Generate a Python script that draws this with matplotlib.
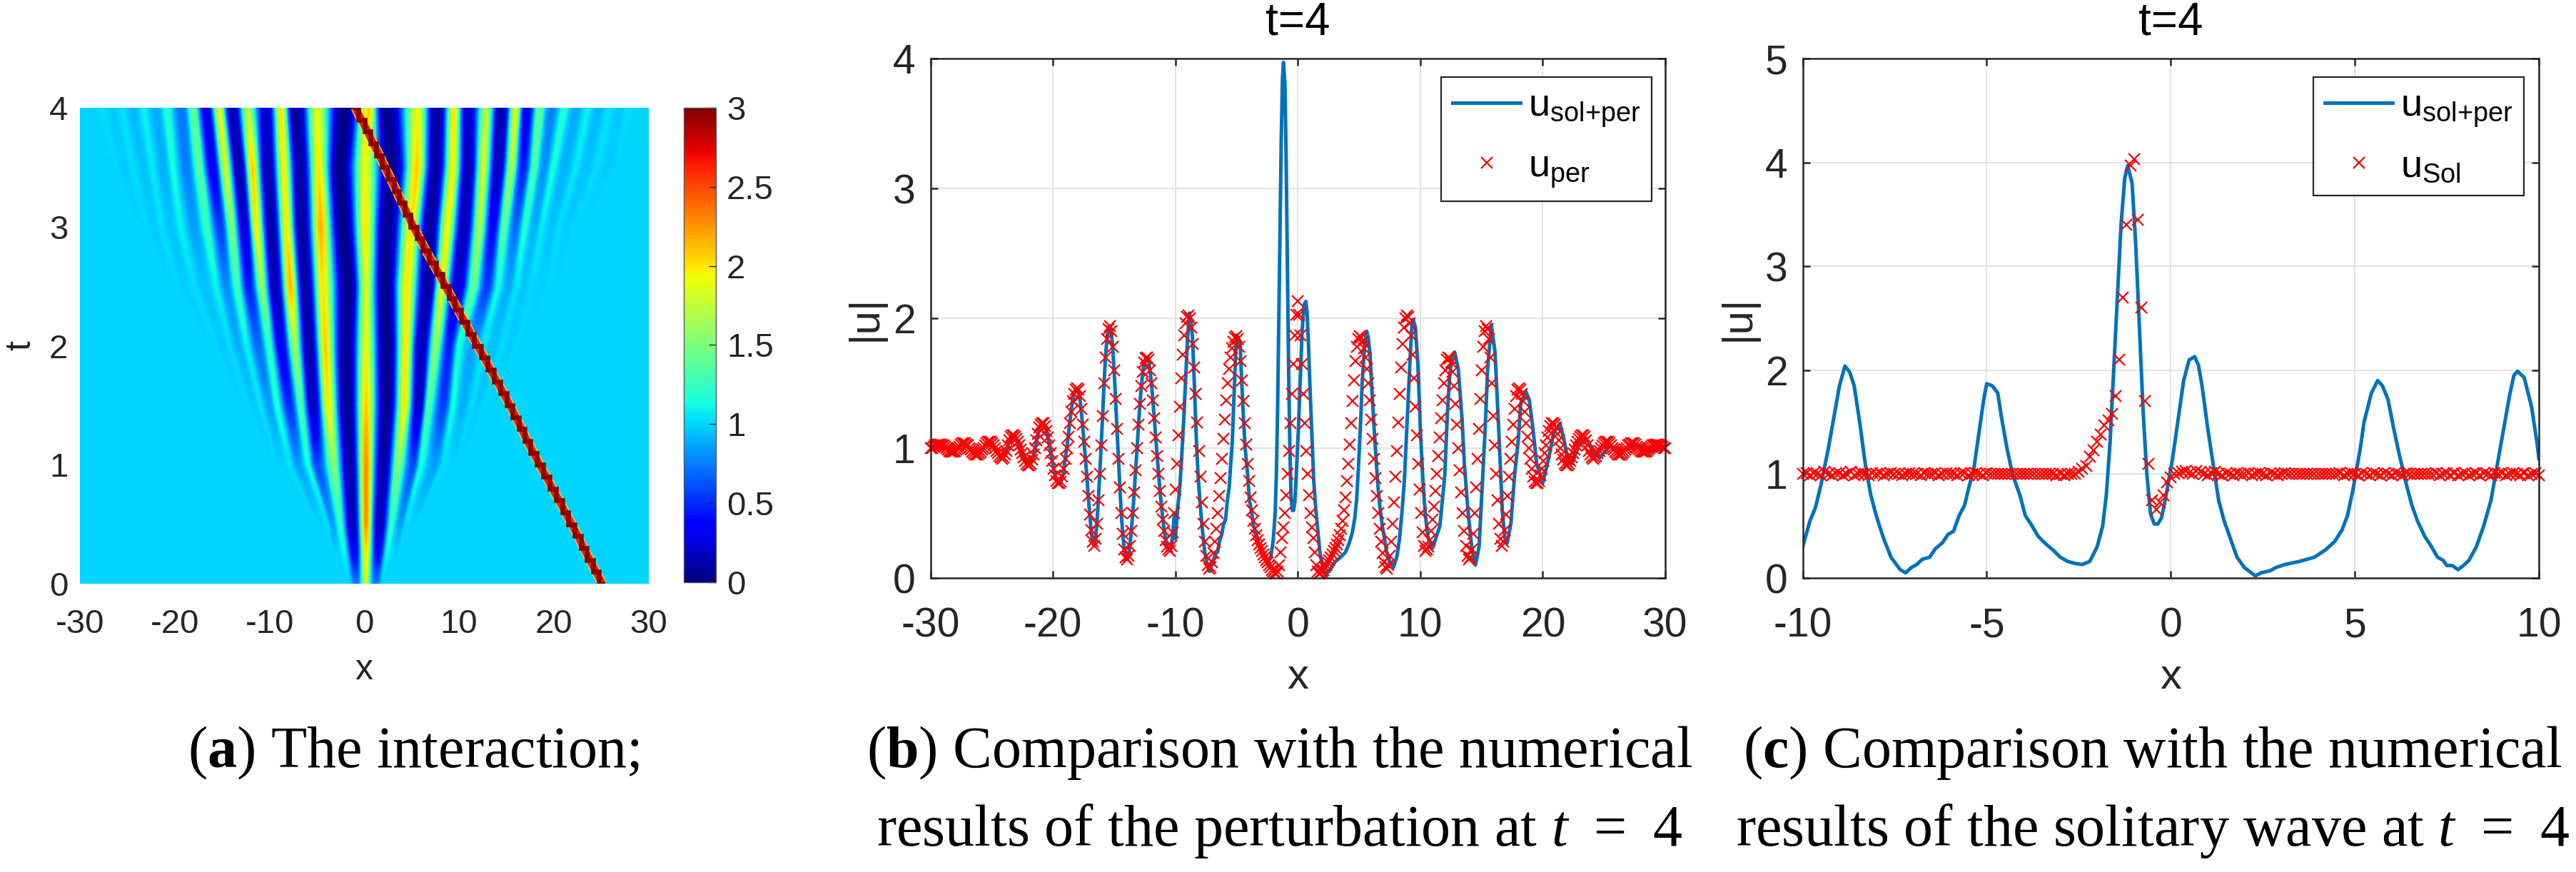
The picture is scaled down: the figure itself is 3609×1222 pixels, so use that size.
import numpy as np
import matplotlib
matplotlib.use("Agg")
import matplotlib.pyplot as plt

plt.rcParams.update({
    "font.family": ["Liberation Sans", "DejaVu Sans"],
    "axes.unicode_minus": False,
    "mathtext.fontset": "custom",
    "mathtext.rm": "Liberation Sans",
    "mathtext.it": "Liberation Serif:italic",
    "mathtext.bf": "Liberation Serif:bold",
    "mathtext.default": "rm",
})

# ---------- panel (a): field read as tracks of crests and troughs, per time row ----------
heat_t = [0, 0.25, 0.5, 1, 1.5, 2, 2.5, 3, 3.5, 4]
centre_x = [0.15, 0.18, 0.18, 0.18, 0.18, 0.18, 0.18, 0.15, 0.1, 0.5]
centre_v = [1.8, 2.0, 2.3, 2.3, 2.1, 1.9, 1.85, 2.0, 1.9, 2.1]
left_x = [
    [-0.82, -1.6],
    [-1.02, -2.02, -3.0],
    [-1.22, -2.53, -3.41, -3.81, -4.61],
    [-1.5, -3.21, -5.01, -5.89, -7.0, -7.8, -8.8],
    [-1.82, -3.81, -5.41, -6.69, -7.88, -9.2, -10.0, -11.0, -11.6, -12.2, -13.0],
    [-1.9, -4.13, -5.81, -7.33, -8.8, -10.0, -11.2, -12.4, -13.31, -14.19, -14.99, -15.59, -16.39],
    [-1.62, -4.41, -6.21, -7.8, -9.4, -10.8, -12.2, -13.39, -14.59, -15.59, -16.79, -17.98, -18.98, -19.78, -20.58],
    [-2.22, -4.61, -6.61, -8.2, -9.8, -11.4, -12.6, -14.0, -15.19, -16.59, -17.98, -19.38, -20.38, -21.38, -22.18, -22.97, -23.97],
    [-2.61, -4.81, -6.81, -8.48, -10.2, -11.8, -13.19, -14.67, -15.99, -17.39, -18.78, -20.18, -21.18, -22.38, -23.37, -24.37, -25.37, -26.17, -27.17],
    [-2.0, -5.0, -7.3, -8.8, -10.3, -12.3, -14.0, -15.3, -16.7, -18.0, -19.3, -20.8, -22.0, -23.3, -24.4, -25.6, -26.6, -27.7, -28.7],
]
left_v = [
    [0.75, 1.0],
    [0.35, 1.1, 1.0],
    [0.15, 1.25, 0.85, 1.03, 1.0],
    [0.1, 1.55, 0.6, 1.15, 0.85, 1.03, 1.0],
    [0.05, 2.0, 0.15, 1.35, 0.5, 1.2, 0.85, 1.05, 0.97, 1.01, 1.0],
    [0.05, 2.1, 0.1, 1.65, 0.3, 1.25, 0.7, 1.1, 0.9, 1.03, 0.97, 1.01, 1.0],
    [0.03, 2.0, 0.1, 2.2, 0.12, 1.6, 0.45, 1.3, 0.8, 1.1, 0.95, 1.03, 0.98, 1.01, 1.0],
    [0.02, 2.2, 0.08, 2.0, 0.1, 2.0, 0.2, 1.55, 0.55, 1.25, 0.85, 1.1, 0.95, 1.04, 0.98, 1.01, 1.0],
    [0.02, 2.0, 0.1, 1.95, 0.12, 2.1, 0.1, 1.85, 0.3, 1.4, 0.75, 1.15, 0.9, 1.07, 0.95, 1.03, 0.98, 1.01, 1.0],
    [0.02, 1.87, 0.07, 2.03, 0.22, 1.72, 0.14, 1.93, 0.25, 1.47, 0.72, 1.2, 0.88, 1.1, 0.92, 1.05, 0.97, 1.03, 1.0],
]
right_x = [
    [1.18, 1.9],
    [1.46, 2.38, 3.37],
    [1.58, 2.89, 3.77, 4.37, 5.17],
    [1.98, 3.57, 5.17, 5.97, 7.37, 8.36, 9.36],
    [2.38, 4.25, 5.77, 6.77, 8.36, 9.36, 10.36, 11.36, 11.96, 12.56, 13.35],
    [2.38, 4.41, 5.97, 7.56, 8.96, 9.96, 11.36, 12.56, 13.55, 14.55, 15.35, 16.15, 16.95],
    [2.18, 4.49, 6.77, 8.16, 9.84, 11.56, 12.95, 14.15, 15.15, 16.07, 16.87, 17.66, 18.74, 19.54, 20.34],
    [2.38, 4.97, 6.97, 8.76, 10.56, 12.16, 13.55, 14.75, 15.95, 16.95, 17.94, 18.74, 19.74, 20.54, 21.34, 22.14, 23.14],
    [2.97, 5.57, 7.56, 9.36, 10.96, 12.56, 14.15, 15.55, 16.75, 17.94, 18.94, 19.94, 21.14, 22.34, 23.41, 24.52, 25.73, 26.72, 27.72],
    [2.2, 5.7, 7.7, 9.5, 10.9, 12.9, 14.5, 16.0, 17.1, 18.5, 19.7, 21.1, 22.3, 23.6, 24.7, 25.8, 26.9, 27.9, 28.8],
]
right_v = [
    [0.75, 1.0],
    [0.35, 1.1, 1.0],
    [0.15, 1.25, 0.85, 1.03, 1.0],
    [0.1, 1.55, 0.6, 1.15, 0.85, 1.03, 1.0],
    [0.05, 2.0, 0.15, 1.35, 0.55, 1.15, 0.9, 1.03, 0.97, 1.01, 1.0],
    [0.02, 2.0, 0.15, 1.6, 0.45, 1.15, 0.85, 1.05, 0.95, 1.02, 0.98, 1.01, 1.0],
    [0.03, 2.0, 0.08, 1.9, 0.2, 1.45, 0.55, 1.15, 0.88, 1.05, 0.97, 1.02, 0.99, 1.01, 1.0],
    [0.05, 2.0, 0.08, 1.95, 0.15, 1.7, 0.35, 1.4, 0.7, 1.2, 0.9, 1.08, 0.95, 1.03, 0.98, 1.01, 1.0],
    [0.05, 2.1, 0.1, 1.95, 0.12, 1.85, 0.15, 1.7, 0.45, 1.35, 0.8, 1.15, 0.9, 1.07, 0.95, 1.03, 0.98, 1.01, 1.0],
    [0.04, 1.9, 0.08, 2.0, 0.22, 1.73, 0.1, 1.95, 0.27, 1.45, 0.75, 1.2, 0.88, 1.1, 0.92, 1.05, 0.97, 1.03, 1.0],
]
soliton_t = [0, .1, .2, .3, .4, .5, .6, .7, .8, .9, 1, 1.1, 1.2, 1.3, 1.4, 1.5, 1.6, 1.7, 1.8, 1.9, 2,
             2.1, 2.2, 2.3, 2.4, 2.5, 2.6, 2.7, 2.8, 2.9, 3, 3.1, 3.2, 3.3, 3.4, 3.5, 3.6, 3.7, 3.8, 3.9, 4]
soliton_x = [25.1, 24.45, 23.8, 23.15, 22.55, 21.9, 21.2, 20.55, 19.85, 19.2, 18.5, 17.85, 17.2, 16.6, 16.0, 15.35, 14.7, 14.0, 13.3, 12.65, 11.95,
             11.25, 10.6, 9.9, 9.25, 8.56, 7.9, 7.2, 6.5, 5.85, 5.17, 4.6, 4.0, 3.4, 2.8, 2.18, 1.6, 0.95, 0.35, -0.3, -0.94]

# ---------- panel (b): perturbation markers (x<=0 read; the curve is mirror-symmetric) ----------
per_left = [
    1.00, 1.00, 1.01, 1.02, 1.02, 1.03, 1.03,
    1.03, 1.02, 1.02, 1.01, 1.00, .99, .98, .97, .97,
    .97, .98, .99, 1.00, 1.01, 1.03, 1.04, 1.04,
    1.04, 1.03, 1.02, 1.00, .99, .97, .96, .95, .95,
    .95, .96, .97, .99, 1.00, 1.02, 1.04, 1.05, 1.05,
    1.05, 1.04, 1.02, 1.00, .98, .96, .94, .93, .92,
    .93, .95, .98, 1.02, 1.06, 1.09, 1.10,
    1.10, 1.09, 1.07, 1.05, 1.02, .99, .96, .93, .90, .88, .87, .87,
    .88, .91, .95, 1.00, 1.06, 1.11, 1.16, 1.18, 1.19,
    1.19, 1.17, 1.13, 1.08, 1.02, .96, .90, .84, .79, .75, .73, .73,
    .74, .78, .84, .92, 1.00, 1.09, 1.19, 1.28, 1.36, 1.42, 1.45, 1.46,
    1.45, 1.40, 1.30, 1.18, 1.05, .92, .78, .63, .49, .37, .28, .25,
    .30, .42, .60, .80, 1.02, 1.25, 1.50, 1.70, 1.84, 1.92, 1.94,
    1.90, 1.78, 1.60, 1.38, 1.15, .92, .70, .50, .34, .22, .16, .145,
    .17, .25, .36, .50, .66, .83, 1.00, 1.18, 1.34, 1.48, 1.59, 1.66, 1.69, 1.70,
    1.68, 1.60, 1.50, 1.37, 1.23, 1.08, .94, .80, .67, .55, .45, .36, .29, .24, .22, .21,
    .25, .35, .50, .68, .88, 1.10, 1.32, 1.54, 1.72, 1.87, 1.96, 2.01, 2.02,
    2.00, 1.93, 1.80, 1.62, 1.42, 1.20, .98, .78, .58, .42, .28, .17, .10, .07,
    .08, .12, .19, .28, .38, .50, .63, .77, .92, 1.07, 1.22, 1.37, 1.50, 1.61, 1.70, 1.77, 1.82, 1.85, 1.86,
    1.84, 1.78, 1.67, 1.52, 1.36, 1.19, 1.03, .88, .75, .62, .52, .44, .38, .33, .29, .26, .23, .21, .18, .16, .14, .12, .10, .08, .06, .05, .04, .035,
    .05, .10, .20, .31, .39, .50, .64, .80, .98, 1.19, 1.42, 1.65, 1.87, 2.03, 2.13,
]

# full wave u_sol+per over -10..10 (panel c) and its right continuation (panel b)
wave_x = [-10, -9.8, -9.65, -9.5, -9.3, -9.15, -9.0, -8.92, -8.85, -8.72, -8.6, -8.45, -8.3, -8.15, -8.0, -7.8, -7.6, -7.35, -7.2,
          -7.05, -6.9, -6.75, -6.55, -6.4, -6.2, -6.05, -5.9, -5.75, -5.6, -5.5, -5.35, -5.25, -5.15, -5.08, -5.0, -4.85, -4.7, -4.6, -4.45, -4.3,
          -4.1, -3.95, -3.8, -3.6, -3.4, -3.2, -3.0, -2.8, -2.6, -2.4, -2.2, -2.0, -1.85, -1.75, -1.65, -1.55, -1.45, -1.35, -1.25, -1.17, -1.05,
          -0.95, -0.85, -0.75, -0.65, -0.55, -0.45, -0.35, -0.25, -0.15, -0.05, 0.05, 0.15, 0.25, 0.35, 0.5, 0.65, 0.75, 0.85, 1.0, 1.15, 1.3,
          1.45, 1.6, 1.8, 2.0, 2.3, 2.45, 2.7, 2.85, 3.1, 3.5, 3.9, 4.2, 4.45, 4.65, 4.8, 4.95, 5.05, 5.15, 5.25, 5.45, 5.62, 5.75, 5.9, 6.05,
          6.2, 6.4, 6.55, 6.7, 6.9, 7.05, 7.25, 7.4, 7.5, 7.65, 7.8, 7.95, 8.1, 8.3, 8.5, 8.7, 8.9, 9.05, 9.2, 9.32, 9.42, 9.6, 9.8, 9.95, 10]
wave_y = [.30, .55, .68, .90, 1.25, 1.55, 1.85, 1.95, 2.04, 1.98, 1.85, 1.50, 1.10, .80, .60, .38, .20, .08, .05,
          .10, .13, .18, .20, .28, .34, .42, .45, .60, .70, .85, 1.05, 1.30, 1.55, 1.72, 1.87, 1.85, 1.78, 1.55, 1.25, 1.00,
          .80, .60, .52, .40, .33, .27, .20, .16, .14, .13, .16, .30, .50, .80, 1.30, 2.00, 2.70, 3.40, 3.85, 3.97, 3.80,
          3.20, 2.40, 1.60, 1.00, .62, .52, .52, .58, .75, .95, 1.15, 1.40, 1.65, 1.90, 2.10, 2.13, 2.05, 1.85, 1.45, 1.10, .75,
          .55, .40, .20, .10, .02, .05, .07, .10, .13, .16, .20, .27, .35, .46, .60, .85, 1.05, 1.25, 1.50, 1.78, 1.90, 1.85, 1.72, 1.45,
          1.20, .90, .70, .55, .40, .32, .20, .17, .12, .12, .08, .12, .17, .30, .50, .75, 1.15, 1.45, 1.75, 1.95, 1.99, 1.93, 1.65, 1.30, 1.15]
right_wave_x = [10.2, 10.4, 10.6, 10.8, 11.0, 11.6, 12.0, 12.2, 12.4, 12.6, 12.8, 13.1, 13.4, 13.6, 13.9, 14.2, 14.5, 14.8, 15.0, 15.3, 15.5, 15.8,
                16.1, 16.4, 16.7, 16.9, 17.1, 17.4, 17.7, 18.0, 18.2, 18.6, 18.9, 19.2, 19.5, 20.0, 20.5, 20.9, 21.4, 21.7, 22.0, 22.4, 22.9, 23.5,
                24.1, 24.7, 25.5, 26.5, 27.7, 28.7, 30.0]
right_wave_y = [.78, .50, .33, .25, .23, .40, .79, 1.24, 1.56, 1.70, 1.74, 1.61, 1.24, .88, .51, .24, .10, .24, .60, 1.15, 1.61, 1.95,
                1.74, 1.15, .51, .31, .27, .42, .79, 1.06, 1.34, 1.44, 1.37, 1.15, .88, .73, .93, 1.12, 1.19, 1.08, .93, .88, 1.01, 1.08,
                .99, .93, 1.02, .98, 1.03, .97, 1.00]

# ---------- panel (c): solitary wave markers, -10..10 ----------
sol_values = [
    1.00, 1.01, .99, 1.01, 1.00, .99, 1.02, 1.00, .99, 1.01, 1.01, .99, 1.00, 1.02, .99, 1.00, 1.01, 1.00, .99, 1.01,
    1.00, 1.01, .99, 1.00, 1.01, 1.00, 1.00, .99, 1.00, 1.01, 1.00, 1.00, .99, 1.01, 1.00, 1.00, 1.01, .99, 1.00, 1.01,
    1.00, 1.00, .99, 1.01, 1.01, .99, 1.00, 1.01, 1.00, .99, 1.01, 1.00, 1.00, 1.00, 1.00, 1.00, 1.00, 1.00, 1.00, 1.00,
    1.00, 1.00, 1.00, 1.00, 1.00, 1.00, 1.00, 1.00, 1.00, .99, 1.00, .99, 1.00, 1.00, 1.00,
    1.02, 1.05, 1.08, 1.17, 1.23, 1.31, 1.38, 1.47, 1.52, 1.58, 1.75, 2.10, 2.70, 3.40, 3.97, 4.03, 3.45, 2.60, 1.70, 1.10, .75, .66, .73, .80, .92, .97,
    1.00, 1.01, 1.02, 1.03, 1.01, 1.00, 1.03, 1.02, 1.00, .99, 1.01, 1.02, 1.00, .99, 1.01, 1.00, .99, 1.01, 1.00, 1.00,
    1.01, .99, 1.00, 1.01, 1.00, .99, 1.01, 1.00, .99, 1.00, 1.01, 1.00, 1.00, 1.00, 1.00, 1.00, 1.00, 1.00, 1.00, 1.00,
    1.00, 1.00, 1.00, 1.00, 1.00, 1.01, .99, 1.00, 1.01, 1.00, .99, 1.01, 1.00, .99, 1.01, 1.00, .99, 1.01, 1.00, .99,
    1.01, 1.00, .99, 1.01, 1.00, 1.00, 1.00, 1.00, 1.00, 1.00, 1.00, 1.01, .99, 1.00, 1.01, .99, 1.01, .99, 1.00, 1.01, .99,
    1.00, 1.01, .99, 1.01, 1.00, .99, 1.01, 1.00, 1.01, .99, 1.00, 1.01, 1.00, .99, 1.01, .99, 1.00, 1.01, .99,
]

a_xticks = [-30, -20, -10, 0, 10, 20, 30]
a_yticks = [0, 1, 2, 3, 4]
cb_ticks = [0, 0.5, 1, 1.5, 2, 2.5, 3]
b_yticks = [0, 1, 2, 3, 4]
c_xticks = [-10, -5, 0, 5, 10]
c_yticks = [0, 1, 2, 3, 4, 5]

# ---------- layout ----------
W, H = 3609, 1222
DARK = (0.15, 0.15, 0.15)
BLUE = "#0072BD"


def box(l, t, r, b):
    return [l / W, 1 - b / H, (r - l) / W, (b - t) / H]


fig = plt.figure(figsize=(W / 100, H / 100), dpi=100, facecolor="white")

# ---------- (a) ----------
ax_a = fig.add_axes(box(112, 151, 908.7, 818))
N_TRACK = 19


def side(xs, vs, sign):
    xs, vs = list(xs), list(vs)
    while len(xs) < N_TRACK:
        xs.append(xs[-1] + sign * 0.4)
        vs.append(1.0)
    return xs + [sign * 30], vs + [1.0]


X_rows, C_rows = [], []
for i in range(len(heat_t)):
    lx, lv = side(left_x[i], left_v[i], -1)
    rx, rv = side(right_x[i], right_v[i], 1)
    X_rows.append(lx[::-1] + [centre_x[i]] + rx)
    C_rows.append(lv[::-1] + [centre_v[i]] + rv)
X_tracks = np.array(X_rows)
C_tracks = np.array(C_rows)

# Gouraud shading blends RGB, so the quads are subdivided to keep the colour map true;
# crests are kept narrow and troughs broad, as in the picture
SUB_COL, SUB_ROW = 8, 8
n_row, n_col = X_tracks.shape
frac = np.arange(SUB_COL) / SUB_COL
ease = frac * frac * (3 - 2 * frac)
PROFILE = 1.5


def shaped(a, b):
    e = ease ** PROFILE if b > a else 1 - (1 - ease) ** PROFILE
    return a + (b - a) * e


X_c = np.vstack([np.concatenate([X_tracks[r, k] + (X_tracks[r, k + 1] - X_tracks[r, k]) * frac for k in range(n_col - 1)] + [X_tracks[r, -1:]]) for r in range(n_row)])
C_c = np.vstack([np.concatenate([shaped(C_tracks[r, k], C_tracks[r, k + 1]) for k in range(n_col - 1)] + [C_tracks[r, -1:]]) for r in range(n_row)])
row_idx = np.linspace(0, n_row - 1, (n_row - 1) * SUB_ROW + 1)
X_mesh = np.column_stack([np.interp(row_idx, np.arange(n_row), X_c[:, j]) for j in range(X_c.shape[1])])
C_mesh = np.column_stack([np.interp(row_idx, np.arange(n_row), C_c[:, j]) for j in range(C_c.shape[1])])
T_mesh = np.repeat(np.interp(row_idx, np.arange(n_row), heat_t)[:, None], X_mesh.shape[1], axis=1)
mesh = ax_a.pcolormesh(X_mesh, T_mesh, C_mesh, shading="gouraud", cmap="jet", vmin=0, vmax=3)
ax_a.plot(soliton_x, soliton_t, color="#d8f040", lw=13 * 0.72, solid_capstyle="butt")
ax_a.plot(soliton_x, soliton_t, color="#f02000", lw=10.5 * 0.72, solid_capstyle="butt")
ax_a.plot(soliton_x, soliton_t, color="#8a0000", lw=6.5 * 0.72, drawstyle="steps-mid", solid_joinstyle="miter")
ax_a.set_xlim(-30, 30)
ax_a.set_ylim(0, 4)
ax_a.set_xticks(a_xticks)
ax_a.set_xticklabels([str(v) for v in a_xticks])
ax_a.set_yticks(a_yticks)
for s in ax_a.spines.values():
    s.set_visible(False)
ax_a.tick_params(length=0, labelsize=34, labelcolor=DARK)
ax_a.tick_params(axis="x", pad=25)
ax_a.tick_params(axis="y", pad=12)
ax_a.set_xlabel("x", fontsize=36, color=DARK)
ax_a.xaxis.set_label_coords(0.5, -0.181)
ax_a.xaxis.label.set_verticalalignment("center")
ax_a.set_ylabel("t", fontsize=36, color=DARK)
ax_a.yaxis.set_label_coords(-0.104, 0.5)
ax_a.yaxis.label.set_verticalalignment("center")

cax = fig.add_axes(box(958, 151, 1002.7, 815.7))
cb = fig.colorbar(mesh, cax=cax)
cb.set_ticks(cb_ticks)
cb.set_ticklabels([f"{v:g}" for v in cb_ticks])
cb.ax.tick_params(direction="in", length=7, width=1.0, color=DARK, labelsize=34, labelcolor=DARK, pad=11)
cb.outline.set_edgecolor("0.35")
cb.outline.set_linewidth(1.0)


def style(ax, xticks, yticks, ylim, xlim):
    ax.set_xlim(*xlim)
    ax.set_ylim(*ylim)
    ax.set_xticks(xticks)
    ax.set_xticklabels([str(v) for v in xticks])
    ax.set_yticks(yticks)
    ax.grid(True, color="#dedede", lw=1.2)
    ax.set_axisbelow(True)
    ax.tick_params(direction="in", top=True, right=True, length=7.5, width=1.8, color=DARK,
                   labelsize=41, labelcolor=DARK)
    ax.tick_params(axis="x", pad=29)
    ax.tick_params(axis="y", pad=15)
    for s in ax.spines.values():
        s.set_linewidth(1.8)
        s.set_edgecolor(DARK)
    ax.set_title("t=4", fontsize=46, color="black", y=1.0, pad=24)
    ax.set_xlabel("x", fontsize=43, color=DARK)
    ax.xaxis.set_label_coords(0.5, -0.191)
    ax.xaxis.label.set_verticalalignment("center")
    ax.set_ylabel("|u|", fontsize=43, color=DARK)
    ax.yaxis.label.set_verticalalignment("center")


MS = 12
MEW = 1.6


def add_legend(ax, anchor):
    leg = ax.legend(loc="upper left", bbox_to_anchor=anchor, borderaxespad=0, fancybox=False,
                    edgecolor=DARK, framealpha=1, fontsize=39, handlelength=1.75, handletextpad=0.2,
                    labelspacing=0.5, borderpad=0.3)
    leg.get_frame().set_linewidth(1.6)


# ---------- (b) ----------
ax_b = fig.add_axes(box(1303.5, 82, 2333, 810))
per_x_left = np.linspace(-30, 0, len(per_left))
per_x = np.concatenate([per_x_left, -per_x_left[-2::-1]])
per_y = np.concatenate([per_left, per_left[-2::-1]])
mask = per_x_left < -10
line_x = np.concatenate([per_x_left[mask], wave_x, right_wave_x])
line_y = np.concatenate([np.array(per_left)[mask], wave_y, right_wave_y])
ax_b.plot(line_x, line_y, color=BLUE, lw=3.6, label=r"u$_{\mathrm{sol}{+}\mathrm{per}}$")
ax_b.plot(per_x, per_y, ls="none", marker="x", ms=MS, mew=MEW, color="red", label=r"u$_{\mathrm{per}}$", clip_on=False)
style(ax_b, a_xticks, b_yticks, (0, 4), (-30, 30))
ax_b.yaxis.set_label_coords((1212 - 1303.5) / 1029.5, 0.5)
add_legend(ax_b, ((2019 - 1303.5) / 1029.5, 1 - (107.5 - 82) / 728))

# ---------- (c) ----------
ax_c = fig.add_axes(box(2525.5, 82, 3557, 810))
sol_x = np.linspace(-10, 10, len(sol_values))
ax_c.plot(wave_x, wave_y, color=BLUE, lw=3.6, label=r"u$_{\mathrm{sol}{+}\mathrm{per}}$")
ax_c.plot(sol_x, sol_values, ls="none", marker="x", ms=MS, mew=MEW, color="red", label=r"u$_{\mathrm{Sol}}$", clip_on=False)
style(ax_c, c_xticks, c_yticks, (0, 5), (-10, 10))
ax_c.yaxis.set_label_coords((2435 - 2525.5) / 1031.5, 0.5)
add_legend(ax_c, ((3241 - 2525.5) / 1031.5, 1 - (107.5 - 82) / 728))

# ---------- captions ----------
CAP = dict(family=["Liberation Serif", "DejaVu Serif"], fontsize=59, color="black", ha="center", va="baseline")
fig.text(580 / W, 1 - 1075 / H, r"($\mathbf{a}$) The interaction;", **CAP)
fig.text(1793 / W, 1 - 1075 / H, r"($\mathbf{b}$) Comparison with the numerical", **CAP)
fig.text(1793 / W, 1 - 1185 / H, "results of the perturbation at $\\mathit{t}$\u2009 = \u20094", **CAP)
fig.text(3016 / W, 1 - 1075 / H, r"($\mathbf{c}$) Comparison with the numerical", **CAP)
fig.text(3016 / W, 1 - 1185 / H, "results of the solitary wave at $\\mathit{t}$\u2009 = \u20094", **CAP)

fig.savefig("out.png", dpi=100, facecolor="white")
